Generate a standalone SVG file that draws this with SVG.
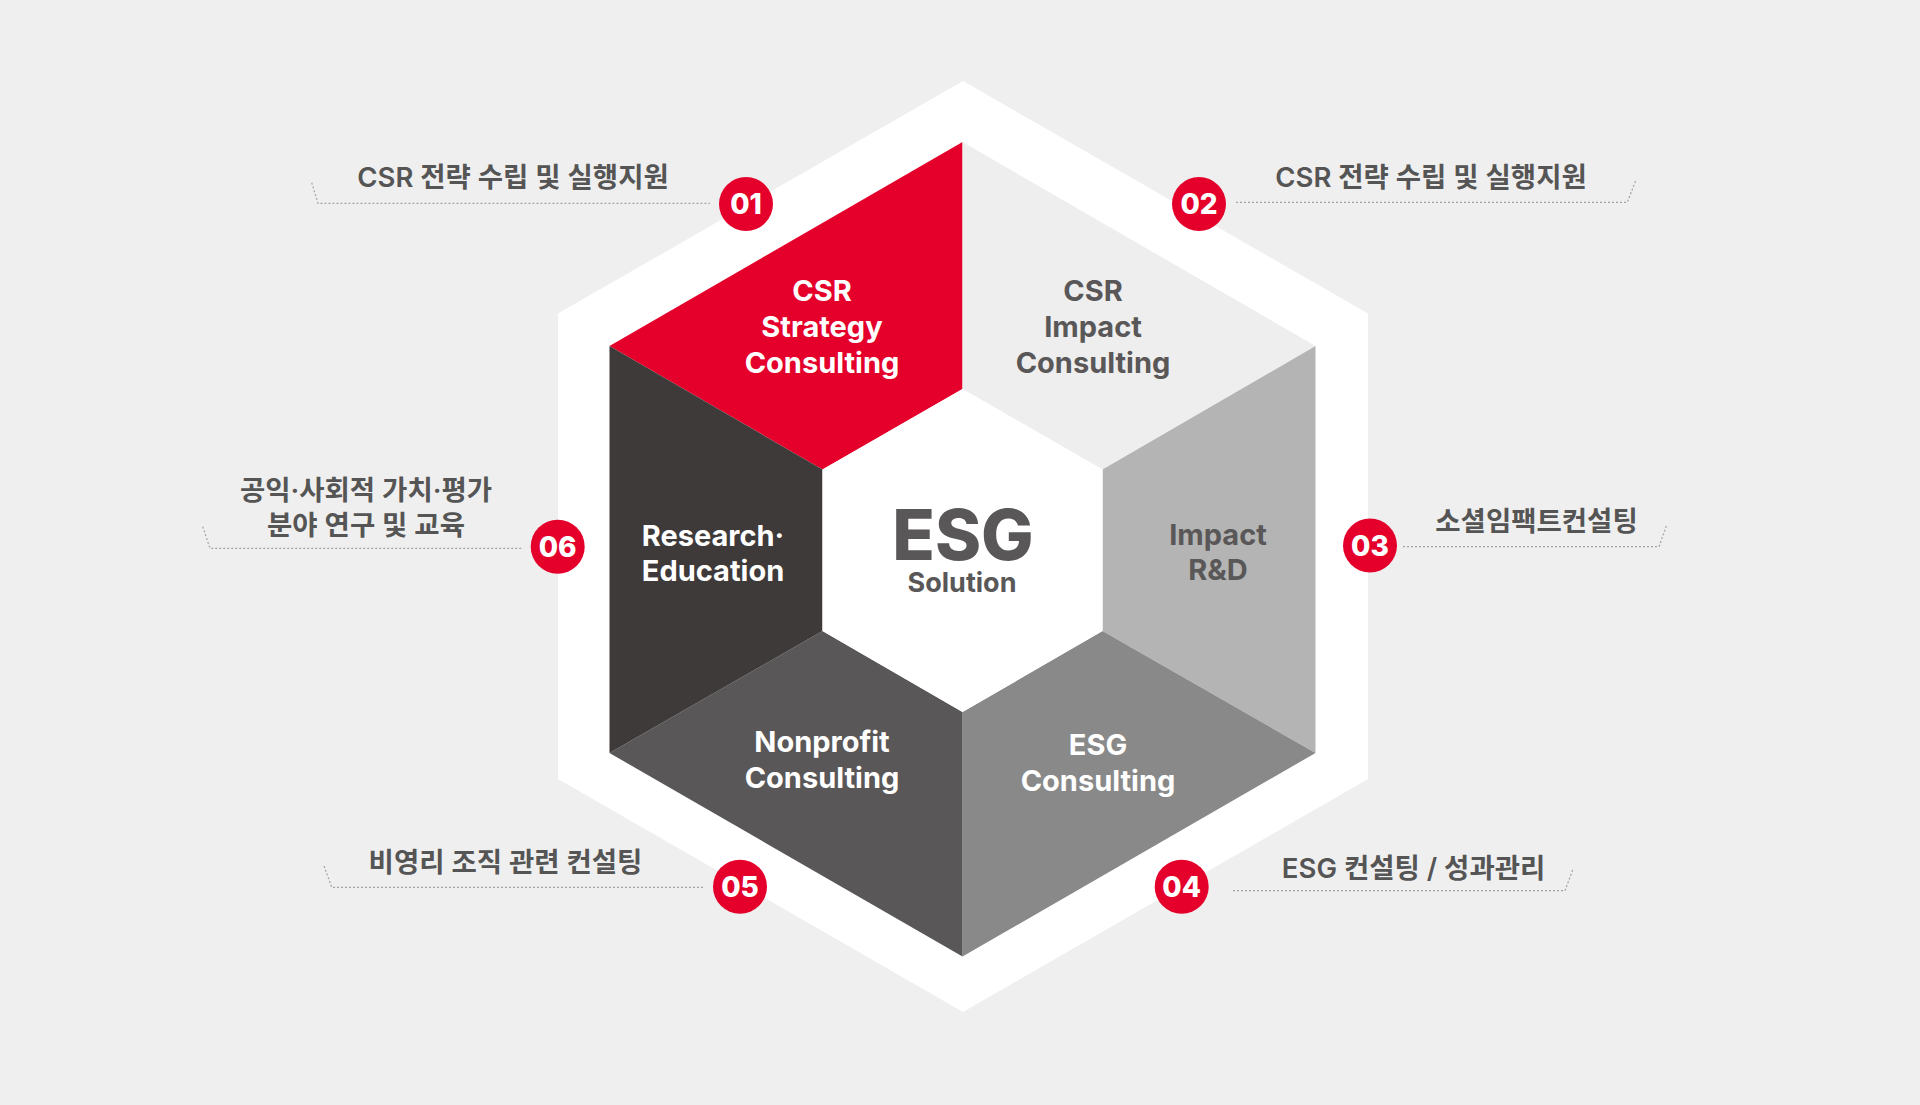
<svg xmlns="http://www.w3.org/2000/svg" width="1920" height="1105" viewBox="0 0 1920 1105">
<style>
.lbl{font-family:"Inter","Noto Sans CJK KR",sans-serif;font-weight:600;font-size:27.5px;fill:#555555;text-anchor:middle}
.nd{font-family:"Inter","Noto Sans CJK KR",sans-serif;font-weight:700;font-size:29px;text-anchor:middle}
.w{fill:#ffffff}
.g{fill:#595757}
.dot{fill:none;stroke:#a3a3a3;stroke-width:1.2;stroke-dasharray:2 2}
.badge circle{fill:#e4002b}
.badge text{font-family:"Inter","Noto Sans",sans-serif;font-weight:800;font-size:28px;fill:#ffffff;text-anchor:middle}
</style>
<rect width="1920" height="1105" fill="#efefef"/>
<polygon id="outer" points="963,81 1368,313.5 1368,779 963,1012 558,779 558,313.5" fill="#ffffff"/>
<g id="seg01"><polygon points="962.5,142 609.5,346 822.5,469.5 962.5,389" fill="#e4002b"/>
<text class="nd w" x="822" y="301">CSR</text><text class="nd w" x="822" y="337">Strategy</text><text class="nd w" x="822" y="373">Consulting</text></g>
<g id="seg02"><polygon points="962.5,142 962.5,389 1102.5,469.5 1315.5,346" fill="#eeeeee"/>
<text class="nd g" x="1093" y="301">CSR</text><text class="nd g" x="1093" y="337">Impact</text><text class="nd g" x="1093" y="373">Consulting</text></g>
<g id="seg03"><polygon points="1315.5,346 1102.5,469.5 1102.5,631 1315.5,753" fill="#b4b4b4"/>
<text class="nd g" x="1218" y="545">Impact</text><text class="nd g" x="1218" y="580">R&amp;D</text></g>
<g id="seg04"><polygon points="1102.5,631 1315.5,753 962.5,956.5 962.5,712" fill="#898989"/>
<text class="nd w" x="1098" y="755">ESG</text><text class="nd w" x="1098" y="791">Consulting</text></g>
<g id="seg05"><polygon points="962.5,712 962.5,956.5 609.5,753 822.5,631" fill="#595757"/>
<text class="nd w" x="822" y="752">Nonprofit</text><text class="nd w" x="822" y="788">Consulting</text></g>
<g id="seg06"><polygon points="822.5,631 609.5,753 609.5,346 822.5,469.5" fill="#3e3a39"/>
<text class="nd w" x="713" y="546">Research·</text><text class="nd w" x="713" y="581">Education</text></g>
<g id="center"><polygon points="962.5,389 1102.5,469.5 1102.5,631 962.5,712 822.5,631 822.5,469.5" fill="#ffffff"/>
<text class="nd g" x="963" y="560" style="font-size:70px;font-weight:800">ESG</text>
<text class="nd g" x="962" y="592" style="font-size:27px">Solution</text></g>
<g id="connectors">
<polyline class="dot" points="311.7,182.7 318,203.3 710,203.3"/>
<polyline class="dot" points="1236,202.3 1627.3,202.3 1635.7,180.7"/>
<polyline class="dot" points="1403,546.7 1659,546.7 1666.7,525"/>
<polyline class="dot" points="1233,890.7 1565,890.7 1573,869"/>
<polyline class="dot" points="324,866 331.7,887.3 703,887.3"/>
<polyline class="dot" points="202.7,526.7 210,548.3 521.7,548.3"/>
</g>
<g id="label01"><text class="lbl" x="513" y="187">CSR 전략 수립 및 실행지원</text></g>
<g id="label02"><text class="lbl" x="1431" y="187">CSR 전략 수립 및 실행지원</text></g>
<g id="label03"><text class="lbl" x="1536.5" y="531">소셜임팩트컨설팅</text></g>
<g id="label04"><text class="lbl" x="1413.6" y="877.7">ESG 컨설팅 / 성과관리</text></g>
<g id="label05"><text class="lbl" x="505.5" y="871.5">비영리 조직 관련 컨설팅</text></g>
<g id="label06"><text class="lbl" x="366" y="499.5">공익·사회적 가치·평가</text><text class="lbl" x="366" y="534.5">분야 연구 및 교육</text></g>
<g id="badge01" class="badge"><circle cx="746" cy="204" r="27"/><text x="746" y="214">01</text></g>
<g id="badge02" class="badge"><circle cx="1199" cy="204" r="27"/><text x="1199" y="214">02</text></g>
<g id="badge03" class="badge"><circle cx="1370" cy="545.5" r="27"/><text x="1370" y="555.5">03</text></g>
<g id="badge04" class="badge"><circle cx="1181.7" cy="886.7" r="27"/><text x="1181.7" y="896.7">04</text></g>
<g id="badge05" class="badge"><circle cx="740" cy="886.7" r="27"/><text x="740" y="896.7">05</text></g>
<g id="badge06" class="badge"><circle cx="557.7" cy="546.7" r="27"/><text x="557.7" y="556.7">06</text></g>
</svg>
